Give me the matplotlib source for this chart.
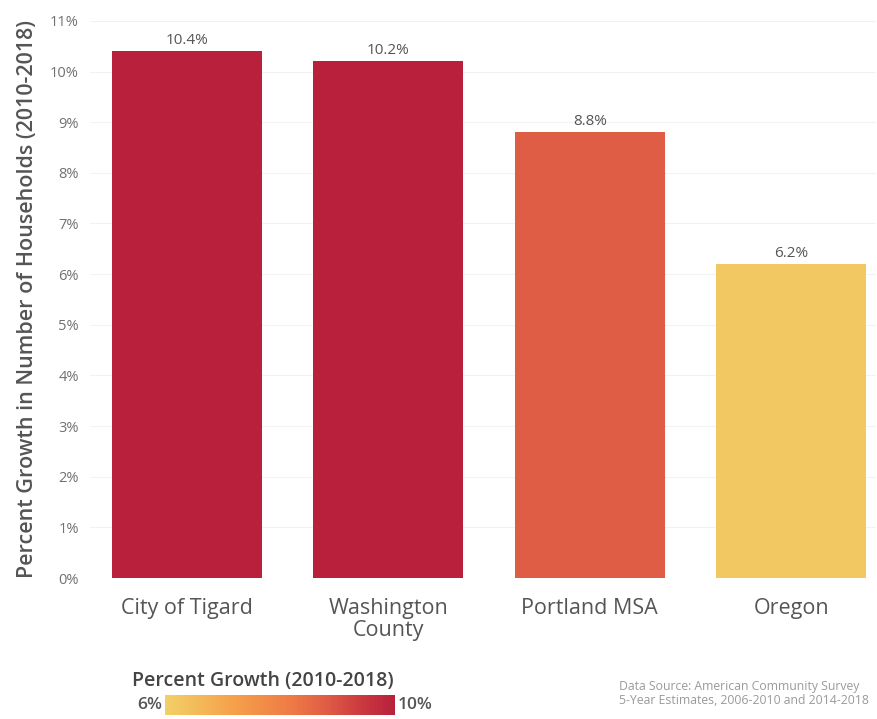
import matplotlib
matplotlib.use("Agg")
import matplotlib.pyplot as plt
import numpy as np
from matplotlib.colors import LinearSegmentedColormap, Normalize
from matplotlib.colorbar import ColorbarBase

# Household growth by geography
places = ["City of Tigard", "Washington\nCounty", "Portland MSA", "Oregon"]
growth = [10.4, 10.2, 8.8, 6.2]
value_labels = ["10.4%", "10.2%", "8.8%", "6.2%"]
yticks = list(range(0, 12))

plt.rcParams.update({"font.family": ["Open Sans", "DejaVu Sans"]})

cmap = LinearSegmentedColormap.from_list(
    "growth",
    [(0.0, "#F2D066"), (0.3, "#F5A04A"), (0.55, "#EE7A45"),
     (0.7, "#E05D45"), (0.85, "#CB3A3F"), (1.0, "#B8203C")],
)
norm = Normalize(vmin=6, vmax=10)
colors = [cmap(norm(v)) for v in growth]

fig = plt.figure(figsize=(8.78, 7.19), dpi=100)
ax = fig.add_axes([0.1025, 0.196, 0.895, 0.775])

x = np.arange(len(places))
ax.bar(x, growth, width=0.745, color=colors, zorder=2)
for xi, v, lab in zip(x, growth, value_labels):
    ax.text(xi, v + 0.06, lab, ha="center", va="bottom", fontsize=11,
            color="#555555")

ax.set_xlim(-0.48, 3.42)
ax.set_ylim(0, 11)
ax.set_yticks(yticks)
ax.set_yticklabels([f"{t}%" for t in yticks], fontsize=10.5, color="#707070")
ax.set_xticks(x)
ax.set_xticklabels(places, fontsize=15.5, color="#555555", linespacing=1.1)
ax.tick_params(length=0, pad=8)
ax.tick_params(axis="x", pad=14)
ax.grid(axis="y", color="#f2f2f2", lw=0.8, zorder=0)
for s in ax.spines.values():
    s.set_visible(False)
ax.set_ylabel("Percent Growth in Number of Households (2010-2018)",
              fontsize=15.5, fontweight="semibold", color="#555555", labelpad=9)

# colour scale legend
cax = fig.add_axes([0.188, 0.006, 0.262, 0.028])
ColorbarBase(cax, cmap=cmap, norm=norm, orientation="horizontal")
cax.set_xticks([])
cax.set_yticks([])
for s in cax.spines.values():
    s.set_visible(False)
fig.text(0.150, 0.039, "Percent Growth (2010-2018)", fontsize=14,
         fontweight="semibold", color="#444444", ha="left", va="bottom")
fig.text(0.1845, 0.020, "6%", fontsize=12.5, fontweight="semibold",
         color="#555555", ha="right", va="center")
fig.text(0.453, 0.020, "10%", fontsize=12.5, fontweight="semibold",
         color="#555555", ha="left", va="center")

fig.text(0.705, 0.016, "Data Source: American Community Survey\n"
         "5-Year Estimates, 2006-2010 and 2014-2018",
         fontsize=8.8, color="#9a9a9a", ha="left", va="bottom", linespacing=1.1)

fig.savefig("out.png", dpi=100)
